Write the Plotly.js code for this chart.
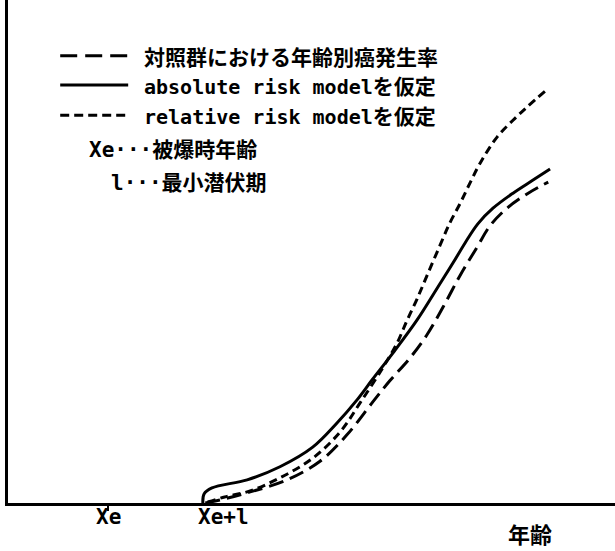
<!DOCTYPE html>
<html>
<head>
<meta charset="utf-8">
<script src="https://cdn.plot.ly/plotly-3.0.1.min.js"></script>
<style>html,body{margin:0;padding:0;background:#fff;}#chart{width:615px;height:551px;}</style>
</head>
<body>
<div id="chart"></div>
<script>
// Positions on the age axis (arbitrary units)
const xeAge = 16.5;      // Xe : age at exposure
const xeLAge = 32.1;     // Xe + l : end of minimum latent period

// Series: control group age-specific cancer incidence
const controlAge  = [32.5,34.9,39.9,46.0,51.4,55.8,60.1,62.9,66.2,69.0,71.7,74.5,77.3,79.4,82.2,85.7,89.0];
const controlRate = [0,0.6,2.2,4.6,8.3,13.5,20.1,24.3,28.8,33.4,39.0,45.3,50.9,55.1,58.6,61.6,63.8];

// Series: absolute risk model
const absoluteAge  = [32.1,32.3,33.6,39.4,44.8,50.2,54.2,57.5,60.0,63.4,67.4,70.7,73.3,75.3,77.4,79.9,83.2,86.5,89.3];
const absoluteRate = [0,1.8,3.0,4.6,7.2,11.1,15.9,20.5,24.5,29.8,36.4,42.7,47.7,51.7,55.5,58.6,61.6,64.2,66.4];

// Series: relative risk model
const relativeAge  = [32.9,35.7,39.9,44.8,50.2,54.7,58.0,61.8,64.1,65.7,67.4,69.2,71.2,72.8,74.5,76.1,77.8,80.6,83.2,85.5,88.5];
const relativeRate = [0.2,1.2,2.4,5.0,8.9,14.1,19.9,27.0,31.8,36.2,40.6,45.7,51.3,55.7,59.6,63.6,67.6,72.8,76.1,78.7,81.9];

// Text
const seriesNames = ["対照群における年齢別癌発生率", "absolute risk model", "relative risk model"];
const seriesSuffix = ["", "を仮定", "を仮定"];
const noteLines = ["Xe···被爆時年齢", "l···最小潜伏期"];
const tickLabels = ["Xe", "Xe+l"];
const xTitle = "年齢";

const dashes = ["15px,7px", "solid", "8px,5px"];
const LW = 3;

const traces = [
  {x: controlAge, y: controlRate, name: seriesNames[0]},
  {x: absoluteAge, y: absoluteRate, name: seriesNames[1] + seriesSuffix[1]},
  {x: relativeAge, y: relativeRate, name: seriesNames[2] + seriesSuffix[2]}
].map((t, i) => Object.assign(t, {
  type: "scatter", mode: "lines", showlegend: false, hoverinfo: "skip",
  line: {color: "#000", width: LW, dash: dashes[i], shape: "spline", smoothing: 1}
}));

const latin = "DejaVu Sans Mono, Noto Sans CJK JP, sans-serif";
const cjk = "Noto Sans CJK JP, sans-serif";
const cjkSpan = (s, size) => `<span style="font-family:Noto Sans CJK JP;font-size:${size}px">${s}</span>`;

// legend sample lines and text (paper coords)
const legY = [0.889, 0.831, 0.771];
const shapes = legY.map((y, i) => ({
  type: "line", xref: "paper", yref: "paper", x0: 0.086, x1: 0.198, y0: y, y1: y,
  line: {color: "#000", width: LW, dash: i === 1 ? "solid" : (i === 0 ? "17px,8px" : "9px,5px")}
}));

const annotations = [];
seriesNames.forEach((s, i) => annotations.push({
  xref: "paper", yref: "paper", x: 0.222, y: legY[i], xanchor: "left", yanchor: "middle", borderpad: 0,
  text: "<b>" + (i === 0 ? s : s + cjkSpan(seriesSuffix[i], 21)) + "</b>", showarrow: false,
  font: {family: i === 0 ? cjk : latin, size: i === 0 ? 21 : 20, color: "#000"}
}));
const noteX = [0.132, 0.168], noteY = [0.702, 0.636];
noteLines.forEach((p, i) => annotations.push({
  xref: "paper", yref: "paper", x: noteX[i], y: noteY[i], xanchor: "left", yanchor: "middle", borderpad: 0,
  text: "<b>" + p + "</b>", showarrow: false,
  font: {family: latin, size: 21, color: "#000"}
}));
// tick labels
annotations.push({xref: "x", yref: "paper", x: xeAge, y: -0.028, xanchor: "center", yanchor: "middle", borderpad: 0,
  text: "<b>" + tickLabels[0] + "</b>", showarrow: false, font: {family: latin, size: 21, color: "#000"}});
annotations.push({xref: "x", yref: "paper", x: 31.1, y: -0.028, xanchor: "left", yanchor: "middle", borderpad: 0,
  text: "<b>" + tickLabels[1] + "</b>", showarrow: false, font: {family: latin, size: 21, color: "#000"}});
// axis title
annotations.push({xref: "paper", yref: "paper", x: 0.86, y: -0.06, xanchor: "center", yanchor: "middle", borderpad: 0,
  text: "<b>" + xTitle + "</b>", showarrow: false, font: {family: cjk, size: 22, color: "#000"}});

const layout = {
  width: 615, height: 551,
  margin: {l: 8, r: 0, t: 0, b: 48, pad: 0},
  paper_bgcolor: "#fff", plot_bgcolor: "#fff",
  xaxis: {range: [0, 100], showgrid: false, zeroline: false, showline: true, linecolor: "#000", linewidth: 3,
          tickvals: [xeAge], ticks: "outside", ticklen: 5, tickwidth: 1.5, tickcolor: "#000", showticklabels: false, fixedrange: true},
  yaxis: {range: [0, 100], showgrid: false, zeroline: false, showline: true, linecolor: "#000", linewidth: 3,
          showticklabels: false, ticks: "", fixedrange: true},
  shapes: shapes,
  annotations: annotations
};

Plotly.newPlot("chart", traces, layout, {displayModeBar: false, staticPlot: true});
</script>
</body>
</html>
